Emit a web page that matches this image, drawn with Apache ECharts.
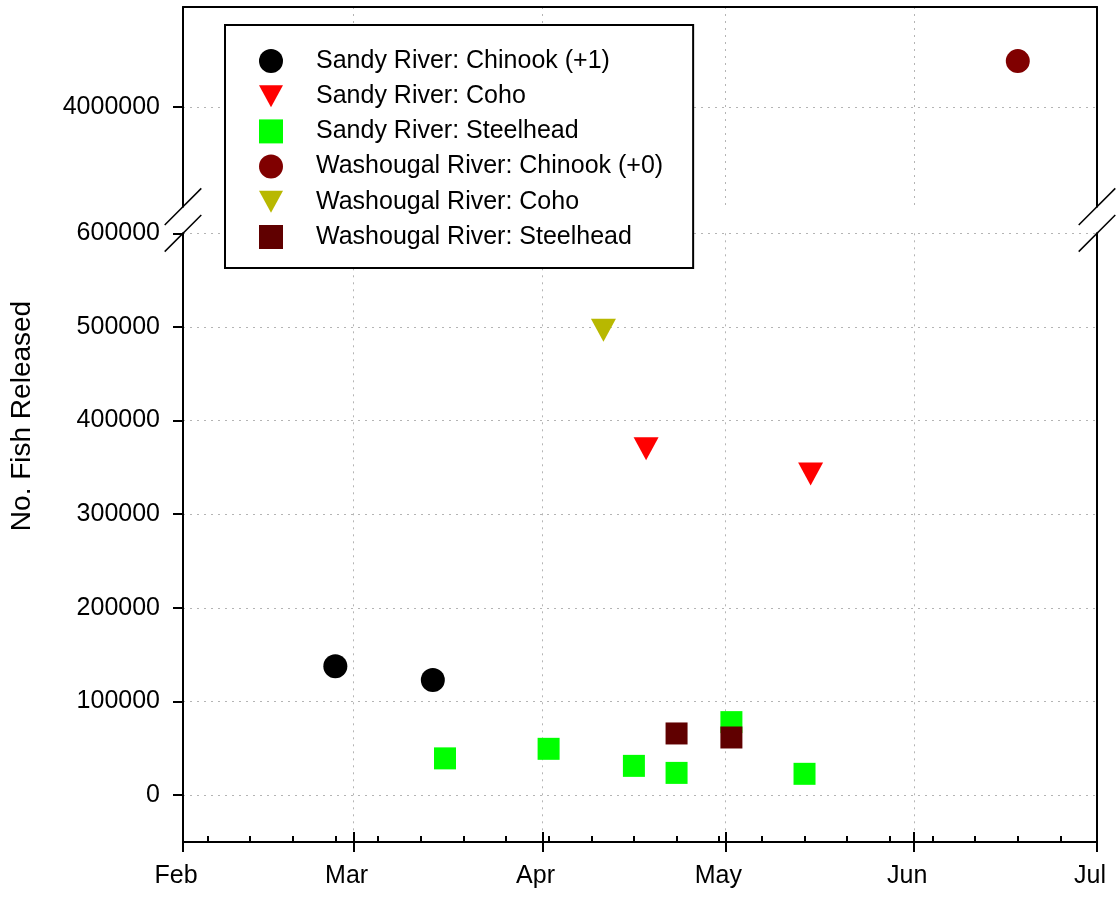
<!DOCTYPE html>
<html>
<head>
<meta charset="utf-8">
<script src="https://cdn.jsdelivr.net/npm/echarts@6/dist/echarts.min.js"></script>
<style>html,body{margin:0;padding:0;background:#fff;}#chart{width:1117px;height:899px;}</style>
</head>
<body>
<div id="chart"></div>
<script>
// ---- data ----
const seriesNames = [
  'Sandy River: Chinook (+1)',
  'Sandy River: Coho',
  'Sandy River: Steelhead',
  'Washougal River: Chinook (+0)',
  'Washougal River: Coho',
  'Washougal River: Steelhead'
];
const sandyChinook = [['2023-02-26', 137600], ['2023-03-14', 123000]];
const sandyCoho = [['2023-04-18', 370000], ['2023-05-15', 343000]];
const sandySteelhead = [['2023-03-16', 39300], ['2023-04-02', 49500], ['2023-04-16', 31300], ['2023-04-23', 23800], ['2023-05-02', 78000], ['2023-05-14', 22800]];
const washougalChinook = [['2023-06-18', 4049000]];
const washougalCoho = [['2023-04-11', 496500]];
const washougalSteelhead = [['2023-04-23', 65900], ['2023-05-02', 61600]];

const monthTicks = ['2023-02-01', '2023-03-01', '2023-04-01', '2023-05-01', '2023-06-01', '2023-07-01'];
const monthLabels = ['Feb', 'Mar', 'Apr', 'May', 'Jun', 'Jul'];
const weekTicks = ['2023-02-05', '2023-02-12', '2023-02-19', '2023-02-26', '2023-03-05', '2023-03-12', '2023-03-19', '2023-03-26',
  '2023-04-02', '2023-04-09', '2023-04-16', '2023-04-23', '2023-04-30', '2023-05-07', '2023-05-14', '2023-05-21', '2023-05-28',
  '2023-06-04', '2023-06-11', '2023-06-18', '2023-06-25'];
const lowerYTicks = [0, 100000, 200000, 300000, 400000, 500000, 600000];
const upperYTicks = [4000000];
const lowerYRange = [-50000, 600000];
const upperYRange = [3893500, 4106800];
const yTitle = 'No. Fish Released';

// ---- helpers ----
function ts(s) { const p = s.split('-').map(Number); return Date.UTC(p[0], p[1] - 1, p[2]); }
const toPts = arr => arr.map(d => [ts(d[0]), d[1]]);
const monthTs = monthTicks.map(ts);
const weekTs = weekTicks.map(ts);

const FONT = 'Liberation Sans, Arial, sans-serif';
const L = 183, R = 1097, UT = 7, UB = 206.7, LT = 233.3, LB = 842, W = 1117;

const grid = [
  { left: L, right: W - R, top: UT, height: UB - UT, outerBoundsMode: 'none' },
  { left: L, right: W - R, top: LT, height: LB - LT, outerBoundsMode: 'none' }
];
const axisLineBlack = { show: true, onZero: false, lineStyle: { color: '#000', width: 2 } };
const dotted = { show: true, lineStyle: { color: '#b4b4b4', width: 1, type: [2, 5] } };
const xMin = monthTs[0], xMax = monthTs[monthTs.length - 1];

const xAxis = [
  { // main bottom axis
    type: 'value', gridIndex: 1, position: 'bottom', min: xMin, max: xMax,
    axisLine: axisLineBlack,
    axisTick: { show: true, customValues: monthTs, length: 10, inside: false, lineStyle: { color: '#000', width: 2 } },
    axisLabel: { show: true, customValues: monthTs, margin: 22, color: '#000', fontSize: 25, fontFamily: FONT, padding: [0, 14, 0, 0],
      formatter: v => { const i = monthTs.indexOf(v); return i >= 0 ? monthLabels[i] : ''; } },
    splitLine: dotted
  },
  { // inner major ticks
    type: 'value', gridIndex: 1, position: 'bottom', min: xMin, max: xMax,
    axisLine: { show: false, onZero: false },
    axisTick: { show: true, customValues: monthTs, length: 10, inside: true, lineStyle: { color: '#000', width: 2 } },
    axisLabel: { show: false }, splitLine: { show: false }
  },
  { // inner minor ticks
    type: 'value', gridIndex: 1, position: 'bottom', min: xMin, max: xMax,
    axisLine: { show: false, onZero: false },
    axisTick: { show: true, customValues: weekTs, length: 6, inside: true, lineStyle: { color: '#000', width: 2 } },
    axisLabel: { show: false }, splitLine: { show: false }
  },
  { // upper grid top frame
    type: 'value', gridIndex: 0, position: 'top', min: xMin, max: xMax,
    axisLine: axisLineBlack,
    axisTick: { show: false, customValues: monthTs },
    axisLabel: { show: false },
    splitLine: dotted
  }
];

const yLabel = { show: true, margin: 23, color: '#000', fontSize: 25, fontFamily: FONT, formatter: v => String(v) };
const yTick = { show: true, length: 10, inside: false, lineStyle: { color: '#000', width: 2 } };
const yAxis = [
  { type: 'value', gridIndex: 1, position: 'left', min: lowerYRange[0], max: lowerYRange[1],
    axisLine: axisLineBlack, axisTick: Object.assign({ customValues: lowerYTicks }, yTick),
    axisLabel: Object.assign({ customValues: lowerYTicks }, yLabel), splitLine: dotted },
  { type: 'value', gridIndex: 1, position: 'right', min: lowerYRange[0], max: lowerYRange[1],
    axisLine: axisLineBlack, axisTick: { show: false }, axisLabel: { show: false }, splitLine: { show: false } },
  { type: 'value', gridIndex: 0, position: 'left', min: upperYRange[0], max: upperYRange[1],
    axisLine: axisLineBlack, axisTick: Object.assign({ customValues: upperYTicks }, yTick),
    axisLabel: Object.assign({ customValues: upperYTicks }, yLabel), splitLine: dotted },
  { type: 'value', gridIndex: 0, position: 'right', min: upperYRange[0], max: upperYRange[1],
    axisLine: axisLineBlack, axisTick: { show: false }, axisLabel: { show: false }, splitLine: { show: false } }
];

function sc(name, data, symbol, size, color, rot, upper) {
  return {
    type: 'scatter', name: name, data: toPts(data),
    xAxisIndex: upper ? 3 : 0, yAxisIndex: upper ? 2 : 0,
    symbol: symbol, symbolSize: size, symbolRotate: rot || 0,
    itemStyle: { color: color, opacity: 1 },
    emphasis: { disabled: true }, z: 5
  };
}
const series = [
  sc(seriesNames[0], sandyChinook, 'circle', 24, '#000000', 0, false),
  sc(seriesNames[1], sandyCoho, 'triangle', [25, 23], '#ff0000', 180, false),
  sc(seriesNames[2], sandySteelhead, 'rect', 22, '#00ff00', 0, false),
  sc(seriesNames[3], washougalChinook, 'circle', 24, '#800000', 0, true),
  sc(seriesNames[4], washougalCoho, 'triangle', [25, 23], '#b8b800', 180, false),
  sc(seriesNames[5], washougalSteelhead, 'rect', 22, '#600000', 0, false)
];

const downTri = 'path://M0,0L25,0L12.5,23Z';
const legendIcons = ['circle', downTri, 'path://M0,0L22,0L22,22L0,22Z', 'circle', downTri, 'path://M0,0L22,0L22,22L0,22Z'];

function brk(x, y) {
  return { type: 'line', z: 100, shape: { x1: x - 18.3, y1: y + 18.3, x2: x + 18.3, y2: y - 18.3 },
    style: { stroke: '#000', lineWidth: 1.5 } };
}

const option = {
  animation: false,
  backgroundColor: '#fff',
  grid: grid,
  xAxis: xAxis,
  yAxis: yAxis,
  legend: {
    data: seriesNames.map((n, i) => ({ name: n, icon: legendIcons[i] })),
    orient: 'vertical', left: 225, top: 25,
    padding: [23.5, 30, 18.5, 34], itemWidth: 24, itemHeight: 24, itemGap: 10.2,
    symbolRotate: 0, symbolKeepAspect: true,
    backgroundColor: '#fff', borderColor: '#000', borderWidth: 2, borderRadius: 0,
    textStyle: { fontSize: 25, color: '#000', fontFamily: FONT, padding: [0, 0, 0, 28] },
    z: 20
  },
  graphic: [
    brk(L, UB), brk(L, LT), brk(R, UB), brk(R, LT),
    { type: 'text', x: 22, y: 416, rotation: Math.PI / 2, z: 100,
      style: { text: yTitle, font: '28px ' + FONT, fill: '#000', align: 'center', verticalAlign: 'middle' } }
  ],
  series: series
};
const chart = echarts.init(document.getElementById('chart'), null, { renderer: 'canvas' });
chart.setOption(option);
</script>
</body>
</html>
